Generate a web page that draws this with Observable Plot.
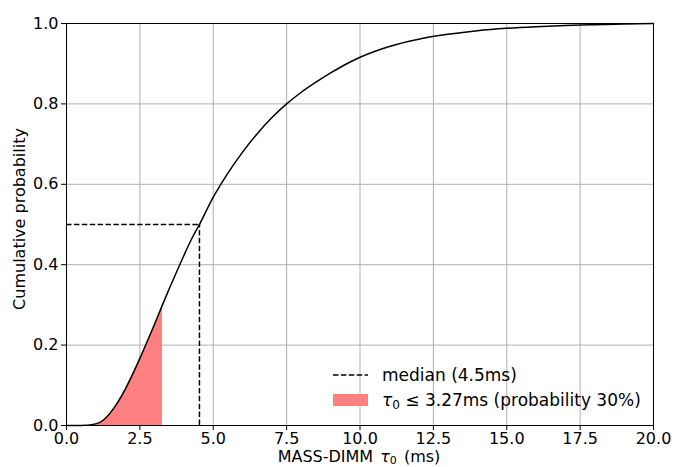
<!DOCTYPE html>
<html><head><meta charset="utf-8">
<script src="https://cdn.jsdelivr.net/npm/d3@7"></script>
<script src="https://cdn.jsdelivr.net/npm/@observablehq/plot@0.6"></script>
<style>body{margin:0;background:#fff;} #chart{position:relative;width:675px;height:467px;}</style>
</head><body><div id="chart"></div>
<script>
// Cumulative distribution of MASS-DIMM tau0
const tau = [0, 0.5, 1.0, 1.25, 1.5, 1.75, 2.0, 2.25, 2.5, 2.75, 3.0, 3.27, 3.5, 3.75, 4.0, 4.25, 4.53, 5.0, 5.5, 6.0, 6.5, 7.0, 7.5, 8.0, 8.5, 9.0, 9.5, 10, 11, 12, 13, 14, 15, 16, 17, 18, 19, 20];
const cdf = [0, 0, 0.004, 0.013, 0.032, 0.058, 0.09, 0.127, 0.167, 0.209, 0.252, 0.30, 0.34, 0.382, 0.423, 0.462, 0.5, 0.568, 0.628, 0.68, 0.726, 0.766, 0.80, 0.829, 0.854, 0.877, 0.898, 0.916, 0.943, 0.961, 0.973, 0.982, 0.988, 0.992, 0.995, 0.997, 0.999, 1.0];
const medianTau = 4.53;
const medianProb = 0.5;
const thresholdTau = 3.27;
const xTicks = [0, 2.5, 5, 7.5, 10, 12.5, 15, 17.5, 20];
const yTicks = [0, 0.2, 0.4, 0.6, 0.8, 1.0];
const legendMedian = "median (4.5ms)";
const legendFillRest = " 3.27ms (probability 30%)";

const curve = tau.map((t, i) => ({t, p: cdf[i]}));
const filled = curve.filter(d => d.t <= thresholdTau);

const font = "DejaVu Sans, sans-serif";
const dash = "5.5,2.4";

const plot = Plot.plot({
  width: 675, height: 467,
  marginLeft: 66, marginRight: 22, marginTop: 23, marginBottom: 42,
  style: {fontFamily: font, fontSize: "16px", background: "white", color: "black"},
  x: {domain: [0, 20]},
  y: {domain: [0, 1]},
  marks: [
    Plot.gridX(xTicks, {stroke: "#b0b0b0", strokeOpacity: 1, strokeWidth: 1}),
    Plot.gridY(yTicks, {stroke: "#b0b0b0", strokeOpacity: 1, strokeWidth: 1}),
    Plot.areaY(filled, {x: "t", y: "p", fill: "#ff8080", curve: "monotone-x"}),
    Plot.line(curve, {x: "t", y: "p", stroke: "black", strokeWidth: 1.5, curve: "monotone-x"}),
    Plot.ruleX([medianTau], {y1: 0, y2: medianProb, stroke: "black", strokeWidth: 1.5, strokeDasharray: dash}),
    Plot.ruleY([medianProb], {x1: 0, x2: medianTau, stroke: "black", strokeWidth: 1.5, strokeDasharray: dash}),
    Plot.frame({stroke: "black", strokeWidth: 1}),
    Plot.axisX({ticks: xTicks, tickFormat: d3.format(".1f"), tickSize: 5, tickPadding: 2, fontSize: 16, label: null}),
    Plot.axisY({ticks: yTicks, tickFormat: d3.format(".1f"), tickSize: 5, tickPadding: 3, fontSize: 16, label: null})
  ]
});
document.getElementById("chart").appendChild(plot);

const svg = d3.select(plot);
// axis labels
const xl = svg.append("text").attr("x", 359).attr("y", 462).attr("text-anchor", "middle")
  .attr("font-family", font).attr("font-size", 16).attr("fill", "black");
xl.append("tspan").text("MASS-DIMM ");
xl.append("tspan").attr("font-style", "italic").attr("dx", 2).text("τ");
xl.append("tspan").attr("font-size", 11).attr("dy", 2).text("0");
xl.append("tspan").attr("dy", -2).attr("dx", 2).text(" (ms)");

svg.append("text").attr("transform", "translate(25,219) rotate(-90)").attr("text-anchor", "middle")
  .attr("font-family", font).attr("font-size", 16).attr("fill", "black").text("Cumulative probability");

// legend
const lg = svg.append("g").attr("font-family", font).attr("font-size", 17).attr("fill", "black").attr("text-anchor", "start");
lg.append("line").attr("x1", 333).attr("x2", 368).attr("y1", 375).attr("y2", 375)
  .attr("stroke", "black").attr("stroke-width", 1.5).attr("stroke-dasharray", dash);
lg.append("text").attr("x", 382).attr("y", 381).attr("text-anchor", "start").text(legendMedian);
lg.append("rect").attr("x", 333).attr("y", 394).attr("width", 35).attr("height", 12).attr("fill", "#ff8080");
const t2 = lg.append("text").attr("x", 382).attr("y", 406).attr("text-anchor", "start");
t2.append("tspan").attr("font-style", "italic").text("τ");
t2.append("tspan").attr("font-size", 12).attr("dy", 3).text("0");
t2.append("tspan").attr("dy", -3).text(" ≤" + legendFillRest);
</script></body></html>
